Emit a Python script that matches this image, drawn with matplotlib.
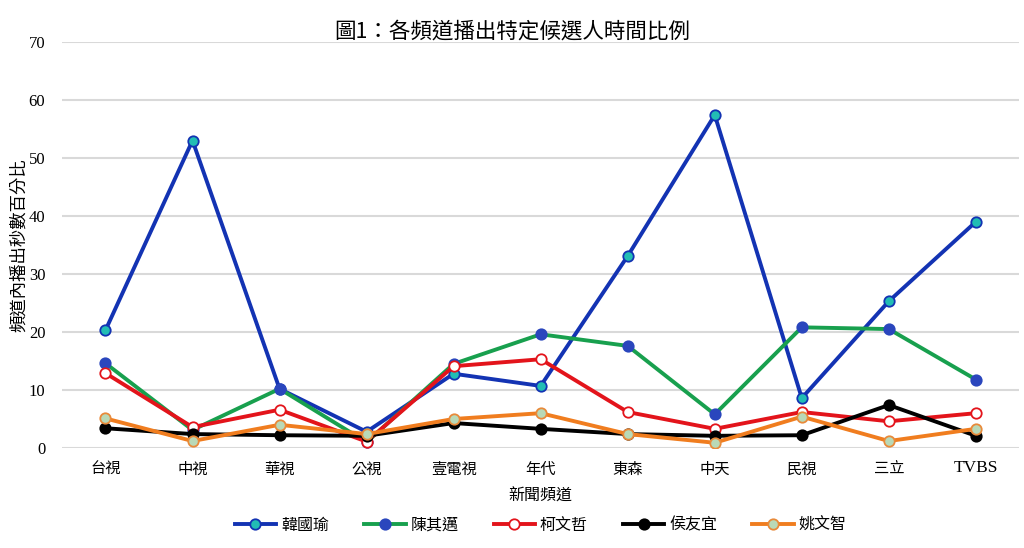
import matplotlib
matplotlib.use("Agg")
import matplotlib.pyplot as plt

plt.rcParams['font.family'] = ['Noto Sans CJK TC', 'DejaVu Sans']

channels = ['台視', '中視', '華視', '公視', '壹電視', '年代', '東森', '中天', '民視', '三立', 'TVBS']
han = [20.3, 53.0, 10.2, 2.8, 12.8, 10.7, 33.1, 57.4, 8.6, 25.3, 39.0]
chen = [14.6, 3.1, 10.2, 1.0, 14.5, 19.6, 17.6, 5.8, 20.8, 20.5, 11.8]
ko = [12.9, 3.6, 6.6, 1.1, 14.1, 15.3, 6.2, 3.3, 6.2, 4.6, 6.0]
hou = [3.4, 2.4, 2.2, 2.1, 4.3, 3.3, 2.4, 2.1, 2.2, 7.4, 2.1]
yao = [5.1, 1.2, 4.0, 2.4, 5.0, 6.0, 2.4, 0.9, 5.4, 1.2, 3.3]
series_names = ['韓國瑜', '陳其邁', '柯文哲', '侯友宜', '姚文智']
yticks = [0, 10, 20, 30, 40, 50, 60, 70]

styles = [
    dict(color='#1333b3', mfc='#22bdb4', mec='#1333b3'),
    dict(color='#18a04e', mfc='#2a46bd', mec='#2a46bd'),
    dict(color='#e3141b', mfc='white', mec='#e3141b'),
    dict(color='#000000', mfc='#000000', mec='#000000'),
    dict(color='#f07d1f', mfc='#b9d9b7', mec='#e88a3a'),
]

fig = plt.figure(figsize=(10.24, 5.48), dpi=100)
ax = fig.add_axes([0.0605, 0.1825, 0.935, 0.741])
x = list(range(len(channels)))
for vals, name, st in zip([han, chen, ko, hou, yao], series_names, styles):
    ax.plot(x, vals, color=st['color'], lw=2.8, marker='o', ms=7.5,
            mfc=st['mfc'], mec=st['mec'], mew=1.3, label=name, zorder=3)

ax.set_xlim(-0.5, len(channels) - 0.5)
ax.set_ylim(0, 70)
ax.set_yticks(yticks)
ax.set_yticklabels([str(v) for v in yticks], family='Liberation Serif', fontsize=12)
ax.set_xticks(x)
ax.set_xticklabels(channels, fontsize=11)
for lab in ax.get_xticklabels():
    if lab.get_text() == 'TVBS':
        lab.set_family('Liberation Serif')
        lab.set_fontsize(12.5)
ax.tick_params(length=0, pad=9)
ax.tick_params(axis='y', pad=12)
ax.grid(axis='y', color='#d9d9d9', lw=1.5, zorder=0)
for s in ax.spines.values():
    s.set_visible(False)

ax.set_xlabel('新聞頻道', fontsize=11.5, labelpad=7)
fig.text(0.018, 1 - 245 / 548, '頻道內播出秒數百分比', rotation=90, ha='center', va='center', fontsize=12.5)
fig.text(0.5, 0.942, '圖1：各頻道播出特定候選人時間比例', ha='center', va='center', fontsize=15.5)

leg = ax.legend(loc='center', bbox_to_anchor=(0.5, -0.19), ncol=5, frameon=False,
                fontsize=11.5, handlelength=2.6, columnspacing=2.2, handletextpad=0.3)

fig.savefig('out.png', dpi=100, facecolor='white')
